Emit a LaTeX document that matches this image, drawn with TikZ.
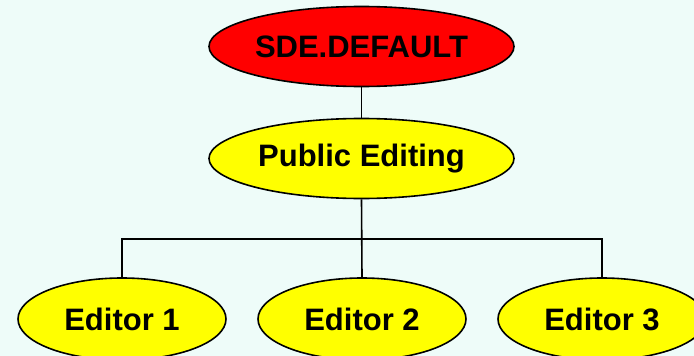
\documentclass[tikz,border=0pt]{standalone}
\usepackage{fontspec}
\setmainfont{Liberation Sans}
\usetikzlibrary{shapes.geometric}
\definecolor{bgcyan}{RGB}{238,252,249}
\definecolor{ovred}{RGB}{255,0,0}
\definecolor{ovyellow}{RGB}{255,255,0}
\begin{document}
\begin{tikzpicture}[x=1pt,y=-1pt,
  oval/.style={ellipse,draw=black,line width=1.6pt,inner sep=0pt,
    font=\fontsize{31}{36}\selectfont\bfseries},
  bigoval/.style={oval,minimum width=305pt,minimum height=80pt},
  smalloval/.style={oval,fill=ovyellow,minimum width=208pt,minimum height=82pt},
  conn/.style={draw=black,line width=1.6pt}]
\fill[bgcyan] (0,0) rectangle (694,356);
\useasboundingbox (0,0) rectangle (694,356);
\clip (0,0) rectangle (694,356);
\node[bigoval,fill=ovred] (sde) at (361.5,46.5) {SDE.DEFAULT};
\node[bigoval,fill=ovyellow] (pub) at (361.5,158.5) {Public Editing};
\coordinate (bus) at (362,239);
\node[smalloval] (e1) at (122,319) {Editor 1};
\node[smalloval] (e2) at (362,319) {Editor 2};
\node[smalloval] (e3) at (602,319) {Editor 3};
\draw[conn] (sde.south) -- (pub.north);
\draw[conn] (pub.south) -- (e2.north);
\draw[conn] (e1.north) -- (e1.north |- bus) -- (e3.north |- bus) -- (e3.north);
\end{tikzpicture}
\end{document}
